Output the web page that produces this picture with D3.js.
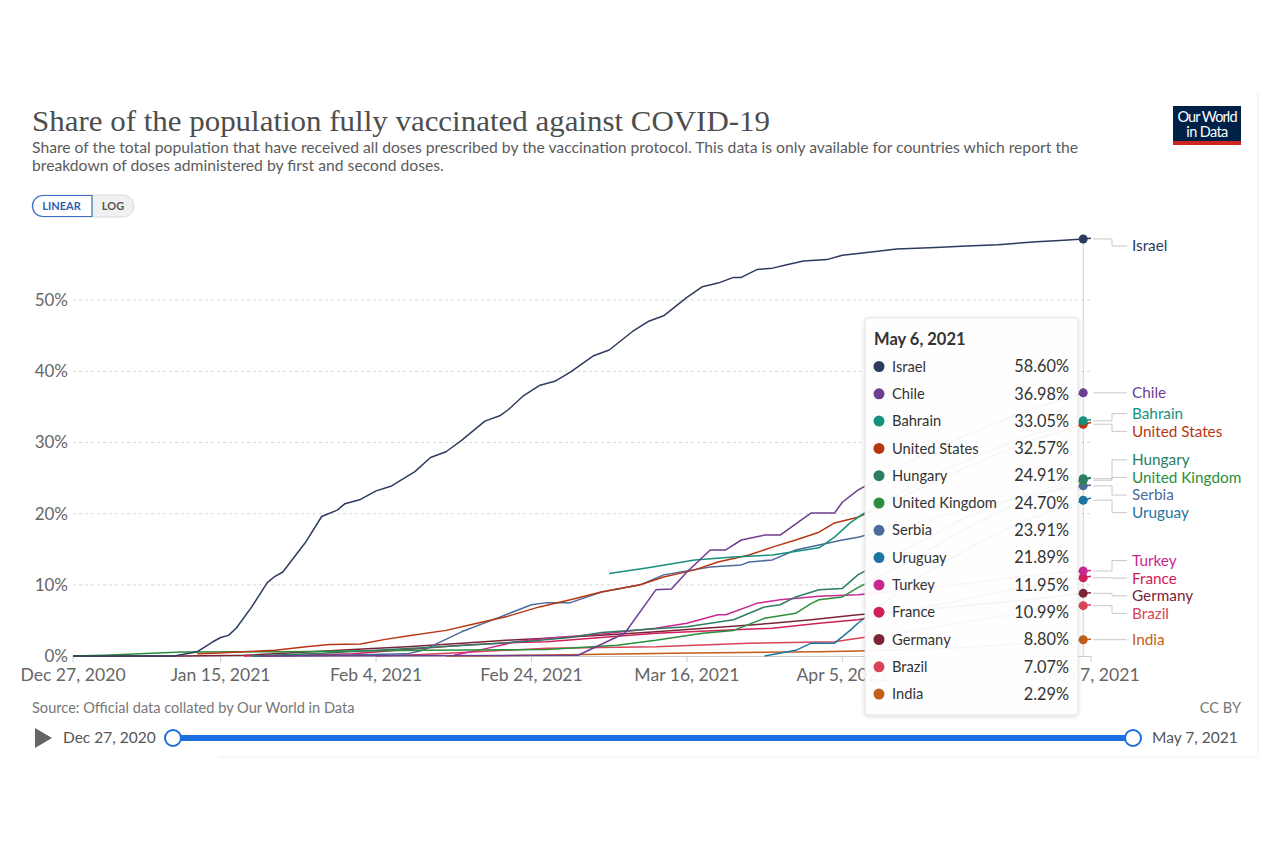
<!DOCTYPE html>
<html><head><meta charset="utf-8">
<script src="https://cdn.jsdelivr.net/npm/d3@7"></script>
<style>
body{margin:0;background:#fff;}
svg text{font-family:Lato,"Noto Sans",sans-serif;}
</style>
</head><body>
<svg id="chart" width="1280" height="853"></svg>
<script>
// ---------------- DATA ----------------
const countries = ["Israel","Chile","Bahrain","United States","Hungary","United Kingdom","Serbia","Uruguay","Turkey","France","Germany","Brazil","India"];
const palette = ["#2d3b5e","#6d3e91","#18907f","#b8360f","#2c7d63","#2a8f3c","#4c6a9c","#1d76a0","#c8288f","#d0205a","#7a2535","#d84558","#c25e19"];

const israel = [["2020-12-27",0],["2021-01-09",0],["2021-01-12",0.6],["2021-01-14",2.0],["2021-01-15",2.6],["2021-01-16",2.9],["2021-01-17",3.9],["2021-01-19",6.9],["2021-01-21",10.3],["2021-01-22",11.2],["2021-01-23",11.8],["2021-01-26",16.1],["2021-01-28",19.6],["2021-01-30",20.5],["2021-01-31",21.4],["2021-02-02",22.0],["2021-02-04",23.2],["2021-02-06",23.9],["2021-02-09",25.9],["2021-02-11",27.9],["2021-02-13",28.7],["2021-02-15",30.3],["2021-02-18",33.0],["2021-02-20",33.8],["2021-02-21",34.6],["2021-02-23",36.6],["2021-02-25",38.0],["2021-02-27",38.6],["2021-03-01",39.9],["2021-03-04",42.2],["2021-03-06",43.0],["2021-03-09",45.6],["2021-03-11",47.0],["2021-03-13",47.8],["2021-03-16",50.4],["2021-03-18",51.9],["2021-03-20",52.4],["2021-03-22",53.2],["2021-03-23",53.2],["2021-03-25",54.3],["2021-03-27",54.5],["2021-03-29",55.0],["2021-03-31",55.5],["2021-04-03",55.7],["2021-04-05",56.3],["2021-04-09",56.8],["2021-04-12",57.2],["2021-04-17",57.4],["2021-04-21",57.6],["2021-04-25",57.8],["2021-04-30",58.2],["2021-05-03",58.4],["2021-05-06",58.60],["2021-05-07",58.7]];
const chile = [["2021-01-20",0],["2021-02-01",0.02],["2021-03-02",0.1],["2021-03-08",3.2],["2021-03-12",9.3],["2021-03-14",9.4],["2021-03-16",11.8],["2021-03-19",14.9],["2021-03-21",14.9],["2021-03-23",16.3],["2021-03-26",17.0],["2021-03-28",17.0],["2021-04-01",20.1],["2021-04-04",20.1],["2021-04-05",21.6],["2021-04-07",23.3],["2021-04-14",27.5],["2021-04-21",31.0],["2021-04-28",34.2],["2021-05-06",36.98]];
const bahrain = [["2021-03-06",11.6],["2021-03-11",12.4],["2021-03-17",13.5],["2021-03-22",13.9],["2021-03-27",14.2],["2021-04-02",15.2],["2021-04-04",16.7],["2021-04-06",18.7],["2021-04-08",20.2],["2021-04-15",24.5],["2021-04-22",28.0],["2021-04-29",31.0],["2021-05-06",33.05],["2021-05-07",33.2]];
const unitedStates = [["2021-01-12",0.3],["2021-01-14",0.4],["2021-01-18",0.6],["2021-01-22",0.8],["2021-01-26",1.3],["2021-01-29",1.6],["2021-02-02",1.7],["2021-02-05",2.3],["2021-02-08",2.8],["2021-02-13",3.6],["2021-02-17",4.6],["2021-02-21",5.6],["2021-02-25",6.9],["2021-03-01",7.9],["2021-03-05",9.0],["2021-03-10",10.0],["2021-03-13",11.1],["2021-03-17",12.1],["2021-03-20",13.2],["2021-03-24",14.2],["2021-03-27",15.3],["2021-03-30",16.3],["2021-04-02",17.4],["2021-04-04",18.7],["2021-04-07",19.5],["2021-04-14",23.0],["2021-04-21",26.5],["2021-04-28",29.8],["2021-05-06",32.57],["2021-05-07",32.8]];
const hungary = [["2021-01-19",0],["2021-01-28",0.4],["2021-02-04",0.8],["2021-02-14",1.4],["2021-02-24",2.1],["2021-03-01",2.6],["2021-03-05",3.3],["2021-03-10",3.7],["2021-03-16",4.1],["2021-03-22",5.1],["2021-03-26",6.9],["2021-03-28",7.2],["2021-03-30",8.3],["2021-04-02",9.3],["2021-04-05",9.5],["2021-04-07",11.4],["2021-04-14",15.5],["2021-04-21",19.5],["2021-04-28",22.5],["2021-05-06",24.91],["2021-05-07",25.1]];
const unitedKingdom = [["2020-12-27",0],["2020-12-31",0.1],["2021-01-10",0.55],["2021-01-23",0.6],["2021-02-10",0.8],["2021-02-26",0.9],["2021-03-07",1.5],["2021-03-12",2.2],["2021-03-18",3.2],["2021-03-22",3.6],["2021-03-26",5.3],["2021-03-30",6.0],["2021-04-01",7.4],["2021-04-02",7.9],["2021-04-05",8.3],["2021-04-07",9.6],["2021-04-14",13.5],["2021-04-21",18.0],["2021-04-28",21.8],["2021-05-06",24.70],["2021-05-07",25.0]];
const serbia = [["2021-01-19",0],["2021-01-30",0.1],["2021-02-08",0.3],["2021-02-10",0.8],["2021-02-15",3.4],["2021-02-20",5.5],["2021-02-24",7.2],["2021-02-26",7.5],["2021-03-01",7.5],["2021-03-05",9.0],["2021-03-10",10.0],["2021-03-13",11.4],["2021-03-19",12.5],["2021-03-23",12.8],["2021-03-24",13.2],["2021-03-27",13.5],["2021-03-30",14.9],["2021-04-02",15.6],["2021-04-05",16.3],["2021-04-07",16.7],["2021-04-14",18.6],["2021-04-21",20.6],["2021-04-28",22.4],["2021-05-06",23.91],["2021-05-07",24.0]];
const uruguay = [["2021-03-26",0],["2021-03-30",0.8],["2021-04-01",1.8],["2021-04-04",1.8],["2021-04-06",3.6],["2021-04-07",4.6],["2021-04-14",10.5],["2021-04-21",15.0],["2021-04-28",18.8],["2021-05-06",21.89],["2021-05-07",22.2]];
const turkey = [["2021-02-14",0.1],["2021-02-18",1.0],["2021-02-22",2.0],["2021-02-26",2.5],["2021-03-05",3.1],["2021-03-12",3.9],["2021-03-16",4.6],["2021-03-20",5.8],["2021-03-21",5.8],["2021-03-25",7.4],["2021-03-28",7.9],["2021-04-02",8.4],["2021-04-07",8.6],["2021-04-14",9.3],["2021-04-21",10.2],["2021-04-28",11.2],["2021-05-06",11.95],["2021-05-07",12.0]];
const france = [["2021-01-18",0],["2021-01-25",0.1],["2021-02-01",0.3],["2021-02-08",0.9],["2021-02-15",1.5],["2021-02-22",1.9],["2021-02-26",2.0],["2021-03-05",2.6],["2021-03-12",3.2],["2021-03-20",3.6],["2021-03-27",3.9],["2021-04-02",4.6],["2021-04-07",5.1],["2021-04-14",6.5],["2021-04-21",8.0],["2021-04-28",9.6],["2021-05-06",10.99],["2021-05-07",11.2]];
const germany = [["2020-12-27",0],["2021-01-10",0],["2021-01-18",0.1],["2021-01-25",0.5],["2021-02-01",0.9],["2021-02-08",1.3],["2021-02-15",1.8],["2021-02-22",2.3],["2021-02-26",2.5],["2021-03-05",2.9],["2021-03-12",3.4],["2021-03-21",4.1],["2021-03-27",4.6],["2021-04-01",5.1],["2021-04-07",5.8],["2021-04-14",6.4],["2021-04-21",7.1],["2021-04-28",7.8],["2021-05-06",8.80],["2021-05-07",8.9]];
const brazil = [["2021-02-04",0],["2021-02-10",0.2],["2021-02-17",0.6],["2021-02-26",1.1],["2021-03-12",1.3],["2021-03-24",1.8],["2021-04-04",2.0],["2021-04-07",2.5],["2021-04-14",3.5],["2021-04-21",4.8],["2021-04-28",6.0],["2021-05-06",7.07],["2021-05-07",7.2]];
const india = [["2021-02-13",0],["2021-02-20",0.05],["2021-03-03",0.2],["2021-03-14",0.4],["2021-04-02",0.6],["2021-04-07",0.7],["2021-04-14",0.9],["2021-04-21",1.2],["2021-04-28",1.7],["2021-05-06",2.29],["2021-05-07",2.35]];

const seriesValues = [israel,chile,bahrain,unitedStates,hungary,unitedKingdom,serbia,uruguay,turkey,france,germany,brazil,india];
const xTickDates = ["2020-12-27","2021-01-15","2021-02-04","2021-02-24","2021-03-16","2021-04-05","2021-05-07"];
const xTickLabels = ["Dec 27, 2020","Jan 15, 2021","Feb 4, 2021","Feb 24, 2021","Mar 16, 2021","Apr 5, 2021","May 7, 2021"];
const yTicks = [0,10,20,30,40,50];
const dateRange = ["2020-12-27","2021-05-07"];
const hoverDate = "2021-05-06";
const hoverLabel = "May 6, 2021";
const titleText = "Share of the population fully vaccinated against COVID-19";
const subtitleLines = ["Share of the total population that have received all doses prescribed by the vaccination protocol. This data is only available for countries which report the","breakdown of doses administered by first and second doses."];
const sourceText = "Source: Official data collated by Our World in Data";
const sliderLabels = ["Dec 27, 2020","May 7, 2021"];

// ---------------- DRAW ----------------
const parse = d3.timeParse("%Y-%m-%d");
const svg = d3.select("#chart");
const x = d3.scaleTime().domain(dateRange.map(parse)).range([73, 1091]);
const y = d3.scaleLinear().domain([0, 60]).range([656, 229]);

const defs = svg.append("defs");
const f = defs.append("filter").attr("id","shadow").attr("x","-10%").attr("y","-10%").attr("width","130%").attr("height","130%");
f.append("feDropShadow").attr("dx",0).attr("dy",1).attr("stdDeviation",2).attr("flood-color","#000").attr("flood-opacity",0.15);

// frame
svg.append("line").attr("x1",1258).attr("x2",1258).attr("y1",92).attr("y2",757).attr("stroke","#eee");
svg.append("line").attr("x1",218).attr("x2",1258).attr("y1",757).attr("y2",757).attr("stroke","#eee");

// title
svg.append("text").attr("x",32).attr("y",131).text(titleText)
  .style("font-family","'Liberation Serif','DejaVu Serif',serif")
  .attr("font-size",30).attr("fill","#4d4d4d").attr("textLength",738).attr("lengthAdjust","spacingAndGlyphs");
subtitleLines.forEach((t,i)=>{
  svg.append("text").attr("x",32).attr("y",153+i*18).text(t).attr("font-size",15.7).attr("fill","#5b5b5b");
});

// logo
const logo = svg.append("g");
logo.append("rect").attr("x",1173).attr("y",106).attr("width",68).attr("height",39).attr("fill","#002147");
logo.append("rect").attr("x",1173).attr("y",141).attr("width",68).attr("height",4).attr("fill","#ce261e");
logo.append("text").attr("x",1207).attr("y",121.5).attr("text-anchor","middle").attr("font-size",14.5).attr("fill","#fff").attr("letter-spacing",-0.9).text("Our World");
logo.append("text").attr("x",1207).attr("y",136.5).attr("text-anchor","middle").attr("font-size",14.5).attr("fill","#fff").attr("letter-spacing",-0.6).text("in Data");

// linear/log toggle
const tg = svg.append("g");
tg.append("rect").attr("x",32).attr("y",195).attr("width",102).attr("height",22).attr("rx",11).attr("fill","#f0f0f0").attr("stroke","#ddd");
tg.append("path").attr("d","M92,195.5 H43 A10.5,10.5 0 0 0 43,216.5 H92 Z").attr("fill","#fff").attr("stroke","#3a6fc4").attr("stroke-width",1.2);
tg.append("text").attr("x",61.5).attr("y",210).attr("text-anchor","middle").attr("font-size",11).attr("font-weight",700).attr("fill","#2f5fb3").text("LINEAR");
tg.append("text").attr("x",113).attr("y",210).attr("text-anchor","middle").attr("font-size",11).attr("font-weight",700).attr("fill","#555").text("LOG");

// grid
const grid = svg.append("g");
yTicks.filter(v=>v>0).forEach(v=>{
  grid.append("line").attr("x1",73).attr("x2",1091).attr("y1",y(v)).attr("y2",y(v))
    .attr("stroke","#d8d8d8").attr("stroke-dasharray","3,3");
});
// y labels
yTicks.forEach(v=>{
  svg.append("text").attr("x",68).attr("y",y(v)).attr("dy","0.35em").attr("text-anchor","end")
    .attr("font-size",17).attr("fill","#666").text(v+"%");
});
// x axis
svg.append("line").attr("x1",73).attr("x2",1091).attr("y1",656.5).attr("y2",656.5).attr("stroke","#ccc");
xTickDates.forEach((d,i)=>{
  const xx = x(parse(d));
  svg.append("line").attr("x1",xx).attr("x2",xx).attr("y1",656).attr("y2",662).attr("stroke","#ccc");
  svg.append("text").attr("x",xx).attr("y",681).attr("text-anchor","middle").attr("font-size",17.6).attr("fill","#666").text(xTickLabels[i]);
});

// hover line
const hd = parse(hoverDate);
const valueAt = (s)=>{ const p = s.find(d=>d[0]===hoverDate); return p ? p[1] : null; };
svg.append("line").attr("x1",x(hd)).attr("x2",x(hd)).attr("y1",y(valueAt(israel))).attr("y2",656).attr("stroke","#d0d0d0");

// lines
const line = d3.line().x(d=>x(parse(d[0]))).y(d=>y(d[1])).curve(d3.curveLinear);
const lg = svg.append("g");
seriesValues.slice().reverse().forEach((s,ri)=>{
  const i = seriesValues.length-1-ri;
  lg.append("path").attr("d",line(s)).attr("fill","none").attr("stroke",palette[i]).attr("stroke-width",1.5).attr("stroke-linejoin","round");
});

// end dots + labels with dodging
const items = countries.map((c,i)=>({name:c,color:palette[i],v:valueAt(seriesValues[i]),dotY:y(valueAt(seriesValues[i]))}))
  .sort((a,b)=>a.dotY-b.dotY);
const gap = 17.6;
let clusters = items.map(d=>({items:[d],top:d.dotY}));
let changed = true;
while(changed){
  changed=false;
  for(let i=0;i<clusters.length-1;i++){
    const a=clusters[i], b=clusters[i+1];
    if(a.top + a.items.length*gap > b.top){
      const its=a.items.concat(b.items);
      const mean=d3.mean(its,d=>d.dotY);
      clusters.splice(i,2,{items:its,top:mean-(its.length-1)*gap/2});
      changed=true;break;
    }
  }
}
const minLabelY = y.range()[1]+17;
if(clusters[0].top<minLabelY) clusters[0].top=minLabelY;
clusters.forEach(c=>c.items.forEach((d,j)=>d.labelY=c.top+j*gap));

const lab = svg.append("g");
const dx = x(hd);
items.forEach(d=>{
  lab.append("path").attr("d",`M${dx+10},${d.dotY}H1112V${d.labelY}H1127`).attr("fill","none").attr("stroke","#c8c8c8").attr("stroke-width",1);
  lab.append("text").attr("x",1132).attr("y",d.labelY).attr("dy","0.35em").attr("font-size",15.3).attr("fill",d.color).text(d.name);
});
items.slice().reverse().forEach(d=>{
  lab.append("circle").attr("cx",dx).attr("cy",d.dotY).attr("r",4.5).attr("fill",d.color);
});

// source & license
svg.append("text").attr("x",32).attr("y",713).attr("font-size",14.6).attr("fill","#777").text(sourceText);
svg.append("text").attr("x",1241).attr("y",713).attr("text-anchor","end").attr("font-size",14.6).attr("fill","#777").text("CC BY");

// timeline
svg.append("path").attr("d","M35,728L52,738L35,748Z").attr("fill","#666");
svg.append("text").attr("x",63).attr("y",743).attr("font-size",15.5).attr("fill","#555").text(sliderLabels[0]);
svg.append("line").attr("x1",173).attr("x2",1133).attr("y1",738).attr("y2",738).attr("stroke","#1a6fe0").attr("stroke-width",6);
[173,1133].forEach(cx=>svg.append("circle").attr("cx",cx).attr("cy",738).attr("r",8).attr("fill","#fff").attr("stroke","#1a6fe0").attr("stroke-width",2));
svg.append("text").attr("x",1152).attr("y",743).attr("font-size",15.5).attr("fill","#555").text(sliderLabels[1]);

// tooltip
const tt = svg.append("g");
tt.append("rect").attr("x",865).attr("y",318).attr("width",213).attr("height",397).attr("rx",3)
  .attr("fill","#fff").attr("fill-opacity",0.94).attr("stroke","#e4e4e4").attr("filter","url(#shadow)");
tt.append("text").attr("x",874).attr("y",345).attr("font-size",16.5).attr("font-weight",700).attr("fill","#333").text(hoverLabel);
const fmt = d3.format(".2f");
const rows = countries.map((c,i)=>({name:c,color:palette[i],v:valueAt(seriesValues[i])})).sort((a,b)=>b.v-a.v);
rows.forEach((r,i)=>{
  const cy = 366.5 + i*27.3;
  tt.append("circle").attr("cx",879).attr("cy",cy).attr("r",5.5).attr("fill",r.color);
  tt.append("text").attr("x",892).attr("y",cy).attr("dy","0.35em").attr("font-size",14.7).attr("fill","#333").text(r.name);
  tt.append("text").attr("x",1069).attr("y",cy).attr("dy","0.35em").attr("text-anchor","end").attr("font-size",16.3).attr("fill","#333").text(fmt(r.v)+"%");
});
</script>
</body></html>
